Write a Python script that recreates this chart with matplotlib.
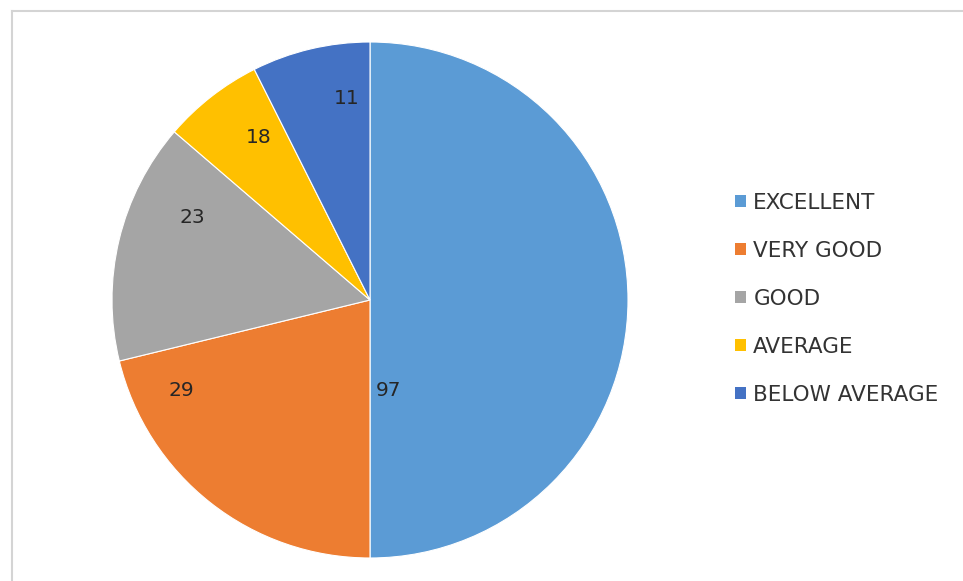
import matplotlib
matplotlib.use("Agg")
import matplotlib.pyplot as plt
from matplotlib.patches import Patch
from matplotlib.lines import Line2D

categories = ["EXCELLENT", "VERY GOOD", "GOOD", "AVERAGE", "BELOW AVERAGE"]
label_values = [97, 29, 23, 18, 11]
# slice shares as drawn in the picture (percent of circle)
slice_shares = [50.0, 21.2, 15.1, 6.3, 7.4]
colors = ["#5B9BD5", "#ED7D31", "#A5A5A5", "#FFC000", "#4472C4"]
# label positions (data units, pie radius = 1)
label_pos = [(0.07, -0.35), (-0.73, -0.35), (-0.69, 0.32), (-0.43, 0.63), (-0.09, 0.78)]

fig = plt.figure(figsize=(9.63, 5.81), dpi=100)
fig.patch.set_facecolor("white")

ax = fig.add_axes([112 / 963, 23 / 581, 516 / 963, 516 / 581])
wedges, _ = ax.pie(slice_shares, colors=colors, startangle=90, counterclock=False,
                   radius=1, wedgeprops=dict(edgecolor="white", linewidth=0.8))
ax.set_xlim(-1, 1)
ax.set_ylim(-1, 1)
ax.set_aspect("equal")
ax.axis("off")

for (x, y), v in zip(label_pos, label_values):
    ax.text(x, y, str(v), ha="center", va="center", fontsize=14.5, color="#262626",
            family="DejaVu Sans")

handles = [Patch(facecolor=c, edgecolor="none") for c in colors]
fig.legend(handles, categories, loc="upper left", bbox_to_anchor=(735 / 963, 1 - 193 / 581),
           frameon=False, fontsize=15.5, handlelength=0.5, handleheight=0.5,
           handletextpad=0.35, labelspacing=1.3, labelcolor="#333333", borderaxespad=0,
           borderpad=0)

# frame lines
fig.add_artist(Line2D([12 / 963, 1], [1 - 11 / 581, 1 - 11 / 581], transform=fig.transFigure,
                      color="#d4d4d4", linewidth=1.5))
fig.add_artist(Line2D([12 / 963, 12 / 963], [0, 1 - 11 / 581], transform=fig.transFigure,
                      color="#d4d4d4", linewidth=1.5))

fig.savefig("out.png", dpi=100, facecolor="white")
